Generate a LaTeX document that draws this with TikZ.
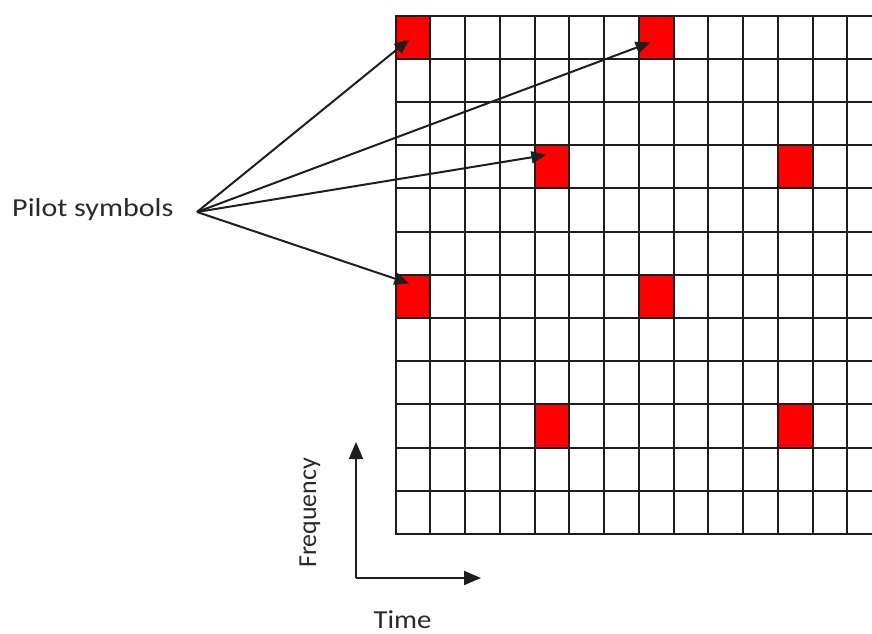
\documentclass[tikz,border=0pt]{standalone}
\usepackage{fontspec}
\setmainfont{Carlito}
\usepackage{tikz}
\usetikzlibrary{arrows.meta, positioning, calc}
\definecolor{myred}{RGB}{255,0,0}
\definecolor{mydark}{RGB}{30,30,30}
\definecolor{mytext}{RGB}{40,40,50}
\tikzset{
  pilotcell/.style={rectangle, fill=myred, draw=none,
    minimum width=35bp, minimum height=43.5bp, inner sep=0pt},
  gridline/.style={line width=2bp, color=mydark},
  arrow/.style={-{Triangle[length=15bp, width=12bp]}, line width=2bp, color=mydark},
  axisarrow/.style={-{Triangle[length=17bp, width=14bp]}, line width=2bp, color=mydark},
  lbl/.style={font=\fontsize{26}{30}\selectfont, text=mytext, inner sep=0pt}
}

\begin{document}
\begin{tikzpicture}[x=1bp, y=-1bp]
  \useasboundingbox (0,0) rectangle (872,634);
  % Pilot cells
  \foreach \c/\r/\n in {0/0/pa, 7/0/pb, 4/3/pc, 11/3/pd, 0/6/pe, 7/6/pf, 4/9/pg, 11/9/ph}
    \node[pilotcell] (\n) at ({395.7+34.74*(\c+0.5)}, {15.7+43.19*(\r+0.5)}) {};
  % Time-frequency grid
  \foreach \r in {0,...,12}
    \draw[gridline] (396, {round(15.7+43.19*\r)}) -- (872, {round(15.7+43.19*\r)});
  \foreach \c in {0,...,13}
    \draw[gridline] ({round(395.7+34.74*\c)}, 15) -- ({round(395.7+34.74*\c)}, 535);

  % Label and pointers
  \node[lbl, anchor=base west, xscale=1.16, transform shape] (pilot) at (12,217) {Pilot symbols};
  \coordinate (fan) at (197,212);
  \draw[arrow] (fan) -- ([shift={(14,24)}]pa.north west);
  \draw[arrow] (fan) -- ([shift={(12,27)}]pb.north west);
  \draw[arrow] (fan) -- ([shift={(12,10)}]pc.north west);
  \draw[arrow] (fan) -- ([shift={(14,9)}]pe.north west);

  % Axes
  \coordinate (orig) at (356,578);
  \coordinate (fup) at (356,442);
  \coordinate (tright) at (481,578);
  \draw[axisarrow] (orig) -- (fup);
  \draw[axisarrow] (orig) -- (tright);
  \node[lbl, anchor=base west, rotate=90] (freq) at (316,568) {Frequency};
  \node[lbl, anchor=base, xscale=1.11, transform shape] (time) at (402.5,628) {Time};
\end{tikzpicture}
\end{document}
